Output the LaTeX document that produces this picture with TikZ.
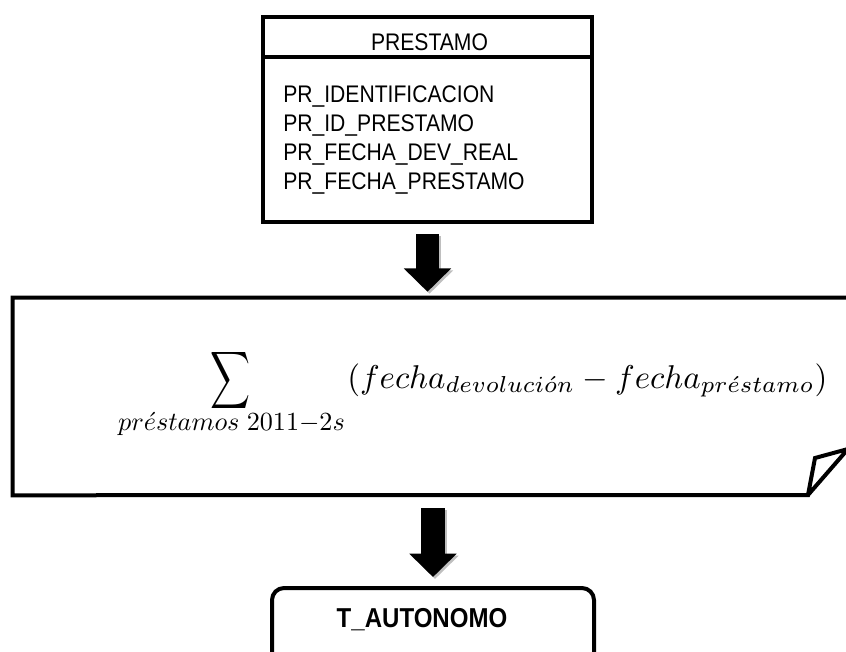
\documentclass[tikz,border=0pt]{standalone}
\usepackage{fontspec}
\setmainfont{Liberation Sans}
\newfontfamily\angosta[FakeStretch=0.88]{Liberation Sans}
\usetikzlibrary{arrows.meta}

\begin{document}
\begin{tikzpicture}[x=0.75pt,y=-0.75pt,
  caja/.style={draw,line width=3pt},
  flecha/.style={line width=17.5pt,-{Triangle[width=34.5pt,length=17.5pt]}},
  sombra/.style={flecha,draw=black!25,transform canvas={xshift=1.5pt,yshift=-1.5pt}},
  campo/.style={anchor=base west,inner sep=0pt,font=\angosta\fontsize{18}{22}\selectfont}]
        \useasboundingbox (0,0) rectangle (846,651) ;
        % tabla PRESTAMO
        \node[caja,minimum width=246.75pt,minimum height=153.75pt] (prestamo) at (427.5,119.5) {} ;
        \draw[caja] (prestamo.west |- 0,57) -- (prestamo.east |- 0,57) ;
        \node[campo,anchor=base] (titulo) at (429.5,50) {PRESTAMO} ;
        \foreach \nombre [count=\i] in {PR\_IDENTIFICACION,PR\_ID\_PRESTAMO,PR\_FECHA\_DEV\_REAL,PR\_FECHA\_PRESTAMO}
          \node[campo] (campo\i) at (283,{102+29*(\i-1)}) {\nombre} ;
        % calculo con la esquina doblada
        \node[minimum width=627.75pt,minimum height=147.75pt,inner sep=0pt] (proceso) at (431.5,396.5) {} ;
        \draw[caja] (proceso.north east) -- (proceso.north west) -- (proceso.south west)
          -- (808,495) -- (815,458) -- (848,449) -- (808,495) ;
        \node[inner sep=0pt] (suma) at (230,380) {\resizebox*{30pt}{48pt}{$\displaystyle\sum$}} ;
        \node[anchor=base,inner sep=0pt] (limite) at (231.5,430)
          {\resizebox{170pt}{!}{$pr\acute{e}stamos\ 2011{-}2s$}} ;
        \node[anchor=base west,inner sep=0pt] (expresion) at (347,388)
          {\resizebox{360pt}{!}{$(fecha_{devoluci\acute{o}n}-fecha_{pr\acute{e}stamo})$}} ;
        % T_AUTONOMO
        \node[caja,rounded corners=9pt,minimum width=241.5pt,minimum height=69pt] (tauto) at (433,634) {} ;
        \node[campo,anchor=base,font=\angosta\bfseries\fontsize{20.5}{24}\selectfont] (nombre) at (422,627) {T\_AUTONOMO} ;
        % flechas
        \draw[sombra,shorten <=7.5pt,shorten >=4.5pt] (prestamo.south) -- (prestamo.south |- proceso.north) ;
        \draw[flecha,shorten <=7.5pt,shorten >=4.5pt] (prestamo.south) -- (prestamo.south |- proceso.north) ;
        \draw[sombra,shorten <=9.75pt,shorten >=6.75pt] (tauto.north |- proceso.south) -- (tauto.north) ;
        \draw[flecha,shorten <=9.75pt,shorten >=6.75pt] (tauto.north |- proceso.south) -- (tauto.north) ;
\end{tikzpicture}
\end{document}
